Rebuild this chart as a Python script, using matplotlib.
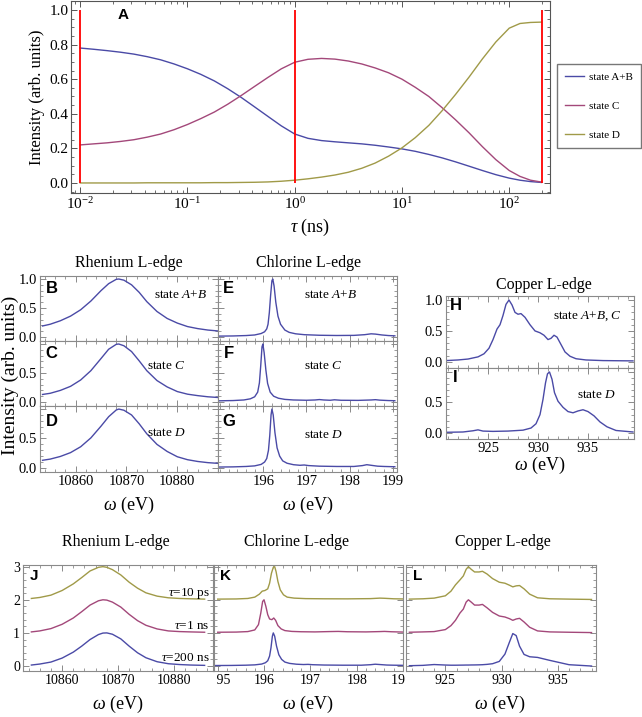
import matplotlib
matplotlib.use('Agg')
import matplotlib.pyplot as plt
from matplotlib.ticker import AutoMinorLocator, LogLocator, NullFormatter, MultipleLocator
from matplotlib.lines import Line2D

plt.rcParams['font.family'] = ['Liberation Serif', 'DejaVu Serif']
plt.rcParams['mathtext.fontset'] = 'custom'
plt.rcParams['mathtext.rm'] = 'Liberation Serif'
plt.rcParams['mathtext.it'] = 'Liberation Serif:italic'

# ---- panel A: populations vs delay ----
tau = [0.01, 0.0133, 0.0178, 0.0237, 0.0316, 0.0422, 0.0562, 0.075, 0.1, 0.133, 0.178,
       0.237, 0.316, 0.422, 0.562, 0.75, 1.0, 1.33, 1.78, 2.37, 3.16, 4.22, 5.62, 7.5,
       10.0, 13.3, 17.8, 23.7, 31.6, 42.2, 56.2, 75.0, 100.0, 126.0, 158.0, 200.0]
pop_ab = [0.780, 0.773, 0.765, 0.756, 0.745, 0.730, 0.712, 0.688, 0.660, 0.628, 0.590,
          0.545, 0.495, 0.440, 0.385, 0.330, 0.283, 0.258, 0.245, 0.238, 0.232, 0.226,
          0.218, 0.208, 0.197, 0.183, 0.165, 0.145, 0.122, 0.097, 0.072, 0.048, 0.028,
          0.016, 0.008, 0.003]
pop_c = [0.220, 0.226, 0.232, 0.240, 0.250, 0.265, 0.283, 0.308, 0.338, 0.372, 0.410,
         0.455, 0.505, 0.558, 0.610, 0.660, 0.698, 0.715, 0.720, 0.716, 0.705, 0.688,
         0.665, 0.637, 0.600, 0.553, 0.500, 0.435, 0.365, 0.290, 0.210, 0.135, 0.072,
         0.038, 0.016, 0.005]
pop_d = [0.0, 0.0, 0.0, 0.0, 0.0, 0.001, 0.001, 0.001, 0.001, 0.001, 0.002,
         0.002, 0.003, 0.004, 0.006, 0.010, 0.016, 0.024, 0.034, 0.046, 0.062, 0.085,
         0.115, 0.155, 0.203, 0.262, 0.333, 0.418, 0.512, 0.612, 0.717, 0.815, 0.895,
         0.922, 0.928, 0.930]
red_tau = [0.01, 1.0, 200.0]
red_top = 1.0

# ---- rhenium L-edge ----
re_x = [10853.5, 10855, 10857, 10859, 10861, 10863, 10865, 10866.5, 10868, 10868.5,
        10869.5, 10871, 10872.5, 10874, 10876, 10878, 10880, 10882, 10884, 10886, 10888.5]
re_b = [0.19, 0.22, 0.28, 0.36, 0.47, 0.62, 0.80, 0.92, 0.995, 1.0,
        0.98, 0.90, 0.77, 0.61, 0.44, 0.32, 0.24, 0.18, 0.145, 0.12, 0.10]
re_c = [0.13, 0.15, 0.20, 0.27, 0.38, 0.54, 0.75, 0.91, 0.995, 1.0,
        0.97, 0.87, 0.71, 0.54, 0.37, 0.26, 0.18, 0.135, 0.11, 0.09, 0.075]
re_d = [0.13, 0.15, 0.195, 0.26, 0.36, 0.51, 0.71, 0.87, 0.985, 1.0,
        0.98, 0.90, 0.75, 0.58, 0.40, 0.28, 0.19, 0.14, 0.11, 0.09, 0.075]

re_jx = [10854.5, 10856, 10858, 10860, 10862, 10863.5, 10865, 10866.5, 10867.3, 10868,
         10869, 10870.5, 10872, 10873.5, 10875, 10877, 10879, 10881, 10883, 10885.5]
re_j200 = [0.03, 0.06, 0.12, 0.24, 0.42, 0.60, 0.80, 0.95, 0.995, 1.0,
           0.96, 0.82, 0.60, 0.40, 0.25, 0.13, 0.07, 0.045, 0.03, 0.02]
re_j1 = [1.03, 1.06, 1.13, 1.26, 1.45, 1.64, 1.84, 1.97, 2.0, 1.99,
         1.93, 1.78, 1.56, 1.37, 1.23, 1.12, 1.06, 1.04, 1.03, 1.02]
re_j10 = [2.04, 2.07, 2.14, 2.28, 2.48, 2.67, 2.87, 2.98, 3.0, 2.98,
          2.91, 2.75, 2.53, 2.35, 2.21, 2.11, 2.06, 2.04, 2.03, 2.02]

# ---- chlorine L-edge ----
cl_ex = [194.95, 195.3, 195.6, 195.8, 195.95, 196.03, 196.08, 196.11, 196.14, 196.17, 196.2,
         196.22, 196.25, 196.29, 196.34, 196.4, 196.5, 196.6, 196.75, 196.95, 197.3, 197.7,
         198.1, 198.35, 198.5, 198.6, 198.75, 198.9, 199.05]
cl_e = [0.015, 0.018, 0.025, 0.035, 0.06, 0.09, 0.14, 0.22, 0.42, 0.72, 0.97,
        1.0, 0.88, 0.6, 0.36, 0.22, 0.12, 0.08, 0.055, 0.04, 0.03, 0.026,
        0.028, 0.04, 0.055, 0.05, 0.035, 0.025, 0.02]
cl_fx = [194.95, 195.3, 195.55, 195.7, 195.8, 195.87, 195.91, 195.94, 195.97, 195.99, 196.02,
         196.06, 196.1, 196.16, 196.24, 196.35, 196.5, 196.7, 197.0, 197.2, 197.3, 197.4,
         197.55, 197.65, 197.8, 198.2, 198.5, 198.6, 198.7, 198.9, 199.05]
cl_f = [0.02, 0.025, 0.035, 0.055, 0.09, 0.17, 0.33, 0.62, 0.95, 1.0, 0.85,
        0.55, 0.32, 0.17, 0.1, 0.065, 0.045, 0.035, 0.03, 0.035, 0.042, 0.035,
        0.03, 0.038, 0.03, 0.028, 0.035, 0.04, 0.032, 0.025, 0.022]
cl_gx = [194.95, 195.3, 195.6, 195.8, 195.95, 196.03, 196.08, 196.12, 196.15, 196.18, 196.2,
         196.23, 196.27, 196.32, 196.38, 196.45, 196.55, 196.7, 196.85, 196.95, 197.05, 197.3,
         197.7, 198.1, 198.3, 198.4, 198.5, 198.65, 198.8, 199.05]
cl_g = [0.015, 0.018, 0.025, 0.035, 0.06, 0.1, 0.16, 0.3, 0.55, 0.9, 1.0,
        0.9, 0.6, 0.34, 0.2, 0.12, 0.08, 0.055, 0.045, 0.05, 0.04, 0.03,
        0.025, 0.025, 0.04, 0.055, 0.045, 0.03, 0.025, 0.02]

cl_k1x = [195.0, 195.4, 195.65, 195.8, 195.88, 195.93, 195.97, 196.0, 196.04, 196.08, 196.12,
          196.17, 196.21, 196.25, 196.3, 196.37, 196.45, 196.6, 196.8, 197.1, 197.4, 197.6,
          197.8, 198.2, 198.5, 198.6, 198.75, 199.0]
cl_k1 = [1.02, 1.025, 1.04, 1.09, 1.25, 1.6, 1.95, 2.0, 1.8, 1.55, 1.42,
         1.4, 1.45, 1.38, 1.22, 1.12, 1.07, 1.045, 1.035, 1.03, 1.04, 1.045,
         1.035, 1.03, 1.04, 1.045, 1.035, 1.025]
cl_k10x = [195.0, 195.4, 195.65, 195.8, 195.9, 195.96, 196.02, 196.08, 196.12, 196.16, 196.2,
           196.23, 196.26, 196.3, 196.35, 196.42, 196.5, 196.65, 196.9, 197.3, 197.8, 198.3,
           198.5, 198.6, 198.8, 199.0]
cl_k10 = [2.02, 2.025, 2.04, 2.08, 2.17, 2.26, 2.28, 2.33, 2.5, 2.8, 2.98,
          3.0, 2.85, 2.55, 2.3, 2.15, 2.08, 2.05, 2.035, 2.03, 2.028, 2.035,
          2.05, 2.045, 2.03, 2.025]

# ---- copper L-edge ----
cu_hx = [920.8, 922, 923, 924, 924.6, 925.1, 925.5, 925.9, 926.2, 926.5, 926.8, 927.1, 927.4,
         927.7, 928.0, 928.3, 928.7, 929.2, 929.7, 930.2, 930.6, 931.0, 931.3, 931.6, 931.9,
         932.3, 932.7, 933.2, 933.8, 934.8, 936.5, 939.5]
cu_h = [0.02, 0.03, 0.045, 0.08, 0.13, 0.22, 0.36, 0.53, 0.6, 0.75, 0.93, 1.0, 0.92,
        0.8, 0.77, 0.78, 0.72, 0.6, 0.5, 0.47, 0.43, 0.36, 0.38, 0.43, 0.4,
        0.28, 0.16, 0.09, 0.05, 0.03, 0.02, 0.015]
cu_ix = [920.8, 922.5, 923.5, 924.0, 924.5, 925.5, 927, 928.5, 929.3, 929.8, 930.2, 930.5,
         930.75, 930.95, 931.15, 931.4, 931.65, 932.0, 932.5, 933.0, 933.5, 934.0, 934.5,
         935.0, 935.6, 936.2, 936.9, 937.8, 939.5]
cu_i = [0.01, 0.015, 0.035, 0.05, 0.03, 0.025, 0.03, 0.045, 0.08, 0.15, 0.3, 0.55,
        0.82, 0.97, 1.0, 0.88, 0.66, 0.52, 0.42, 0.35, 0.33, 0.36, 0.38,
        0.35, 0.28, 0.18, 0.1, 0.04, 0.015]
cu_lx = [921.8, 923, 924, 925, 925.5, 925.9, 926.3, 926.6, 926.85, 927.05, 927.3, 927.6,
         928.0, 928.3, 928.7, 929.2, 929.8, 930.3, 930.7, 931.0, 931.3, 931.6, 932.0, 932.5,
         933.2, 934.3, 936, 938]
cu_l10 = [2.02, 2.03, 2.05, 2.12, 2.26, 2.45, 2.6, 2.72, 2.92, 3.0, 2.92, 2.84,
          2.84, 2.86, 2.78, 2.64, 2.53, 2.5, 2.44, 2.39, 2.42, 2.43, 2.33, 2.17,
          2.06, 2.03, 2.02, 2.01]
cu_l1 = [1.02, 1.03, 1.04, 1.1, 1.22, 1.38, 1.6, 1.72, 1.93, 2.0, 1.93, 1.84,
         1.84, 1.86, 1.76, 1.62, 1.51, 1.48, 1.43, 1.38, 1.42, 1.44, 1.33, 1.17,
         1.06, 1.03, 1.02, 1.01]
cu_l200 = [0.01, 0.02, 0.045, 0.03, 0.025, 0.025, 0.027, 0.028, 0.03, 0.03, 0.032, 0.033,
           0.036, 0.04, 0.05, 0.07, 0.14, 0.36, 0.72, 0.98, 0.92, 0.6, 0.35, 0.28,
           0.26, 0.17, 0.04, 0.0]

BLUE = '#4a4aa6'
PURPLE = '#a3487a'
OLIVE = '#a09a48'
FRAME = '#8a8a8a'

W, H = 642, 717
fig = plt.figure(figsize=(6.42, 7.17), dpi=100)


def rect(x0, y0, x1, y1):
    return [x0 / W, 1 - y1 / H, (x1 - x0) / W, (y1 - y0) / H]


def frame(ax, col=FRAME, size=10):
    for s in ax.spines.values():
        s.set_color(col)
        s.set_linewidth(0.8)
    ax.tick_params(which='both', direction='in', top=True, right=True, color=col,
                   labelsize=size, pad=2)
    ax.tick_params(which='major', length=4, width=0.7)
    ax.tick_params(which='minor', length=2, width=0.6)


def letter(ax, x, y, s, size=12):
    ax.text(x, y, s, transform=ax.transAxes, fontfamily='Liberation Sans',
            fontweight='bold', fontsize=size, ha='center', va='center')


# panel A
axA = fig.add_axes(rect(71, 1, 550, 193))
axA.plot(tau, pop_ab, color=BLUE, lw=1.0, label='state A+B')
axA.plot(tau, pop_c, color=PURPLE, lw=1.0, label='state C')
axA.plot(tau, pop_d, color=OLIVE, lw=1.0, label='state D')
axA.vlines(red_tau, 0, red_top, color='red', lw=1.3)
axA.set_xscale('log')
axA.set_xlim(0.0082, 240)
axA.set_ylim(-0.058, 1.052)
axA.set_yticks([0, 0.2, 0.4, 0.6, 0.8, 1.0])
axA.set_yticklabels(['0.0', '0.2', '0.4', '0.6', '0.8', '1.0'])
axA.yaxis.set_minor_locator(AutoMinorLocator(4))
axA.xaxis.set_major_locator(LogLocator(base=10, numticks=10))
axA.xaxis.set_minor_locator(LogLocator(base=10, subs=range(2, 10), numticks=20))
axA.xaxis.set_minor_formatter(NullFormatter())
frame(axA, '#555555', 11)
axA.set_ylabel('Intensity (arb. units)', fontsize=12, labelpad=3)
axA.set_xlabel(r'$\tau$ (ns)', fontsize=13, labelpad=4)
letter(axA, 0.108, 0.927, 'A', 11)
fig.legend(handles=[Line2D([], [], color=BLUE, lw=1.0), Line2D([], [], color=PURPLE, lw=1.0),
                    Line2D([], [], color=OLIVE, lw=1.0)],
           labels=['state A+B', 'state C', 'state D'], loc='upper left',
           bbox_to_anchor=(557 / W, 1 - 64 / H), fontsize=8, frameon=True, fancybox=False,
           edgecolor='#777777', framealpha=1, handlelength=1.7, labelspacing=1.75,
           borderpad=0.7, handletextpad=0.5, borderaxespad=0)

# row 2: Re, Cl, Cu
rows = [(276, 341), (341, 406), (406, 472)]
re_curves = [re_b, re_c, re_d]
cl_curves = [(cl_ex, cl_e), (cl_fx, cl_f), (cl_gx, cl_g)]
re_letters = ['B', 'C', 'D']
cl_letters = ['E', 'F', 'G']
re_texts = ['state $A$+$B$', 'state $C$', 'state $D$']
re_text_pos = [(0.79, 0.71), (0.71, 0.62), (0.71, 0.59)]
cl_text_pos = [(0.63, 0.71), (0.59, 0.62), (0.59, 0.56)]
letter_y = [0.815, 0.815, 0.76]
for i in range(3):
    y0, y1 = rows[i]
    ax = fig.add_axes(rect(40, y0, 218, y1))
    ax.plot(re_x, re_curves[i], color=BLUE, lw=1.0)
    ax.set_xlim(10853, 10888)
    ax.set_ylim(-0.069, 1.052)
    ax.set_xticks([10860, 10870, 10880])
    ax.xaxis.set_minor_locator(MultipleLocator(2))
    ax.set_yticks([0, 0.5, 1.0])
    ax.set_yticklabels(['0.0', '0.5', '1.0' if i == 0 else ''])
    ax.yaxis.set_minor_locator(MultipleLocator(0.1))
    if i < 2:
        ax.set_xticklabels([])
    frame(ax, FRAME, 10.5)
    letter(ax, 0.065, letter_y[i], re_letters[i])
    ax.text(re_text_pos[i][0], re_text_pos[i][1], re_texts[i], transform=ax.transAxes,
            fontsize=9.5, ha='center', va='center')

    ax = fig.add_axes(rect(218, y0, 397, y1))
    ax.plot(cl_curves[i][0], cl_curves[i][1], color=BLUE, lw=1.0)
    ax.set_xlim(194.95, 199.1)
    ax.set_ylim(-0.069, 1.052)
    ax.set_xticks([196, 197, 198, 199])
    ax.xaxis.set_minor_locator(MultipleLocator(0.2))
    ax.set_yticks([0, 0.5, 1.0])
    ax.set_yticklabels([])
    ax.yaxis.set_minor_locator(MultipleLocator(0.1))
    if i < 2:
        ax.set_xticklabels([])
    frame(ax, FRAME, 10.5)
    letter(ax, 0.06, letter_y[i], cl_letters[i])
    ax.text(cl_text_pos[i][0], cl_text_pos[i][1], re_texts[i], transform=ax.transAxes,
            fontsize=9.5, ha='center', va='center')

cu_rows = [(296, 368), (368, 439)]
cu_curves = [(cu_hx, cu_h), (cu_ix, cu_i)]
cu_texts = ['state $A$+$B$, $C$', 'state $D$']
cu_text_pos = [(0.75, 0.72), (0.8, 0.62)]
for i in range(2):
    y0, y1 = cu_rows[i]
    ax = fig.add_axes(rect(446, y0, 634, y1))
    ax.plot(cu_curves[i][0], cu_curves[i][1], color=BLUE, lw=1.0)
    ax.set_xlim(920.8, 939.6)
    ax.set_ylim(-0.1, 1.065)
    ax.set_xticks([925, 930, 935])
    ax.xaxis.set_minor_locator(MultipleLocator(1))
    ax.set_yticks([0, 0.5, 1.0])
    ax.set_yticklabels(['0.0', '0.5', '1.0' if i == 0 else ''])
    ax.yaxis.set_minor_locator(MultipleLocator(0.1))
    if i == 0:
        ax.set_xticklabels([])
    frame(ax, FRAME, 10.5)
    letter(ax, 0.05, 0.87, ['H', 'I'][i])
    ax.text(cu_text_pos[i][0], cu_text_pos[i][1], cu_texts[i], transform=ax.transAxes,
            fontsize=9.5, ha='center', va='center')

fig.text(129 / W, 1 - 263 / H, 'Rhenium L-edge', fontsize=11.5, ha='center', va='center')
fig.text(308 / W, 1 - 263 / H, 'Chlorine L-edge', fontsize=11.5, ha='center', va='center')
fig.text(544 / W, 1 - 285 / H, 'Copper L-edge', fontsize=11.5, ha='center', va='center')
fig.text(10 / W, 1 - 375 / H, 'Intensity (arb. units)', fontsize=14, rotation=90,
         ha='center', va='center')
fig.text(129 / W, 1 - 505 / H, r'$\omega$ (eV)', fontsize=13, ha='center', va='center')
fig.text(308 / W, 1 - 505 / H, r'$\omega$ (eV)', fontsize=13, ha='center', va='center')
fig.text(540 / W, 1 - 465 / H, r'$\omega$ (eV)', fontsize=13, ha='center', va='center')

# row 3: time-resolved spectra
axJ = fig.add_axes(rect(23, 565, 213, 671))
axJ.plot(re_jx, re_j10, color=OLIVE, lw=1.0)
axJ.plot(re_jx, re_j1, color=PURPLE, lw=1.0)
axJ.plot(re_jx, re_j200, color=BLUE, lw=1.0)
axJ.set_xlim(10853, 10887)
axJ.set_xticks([10860, 10870, 10880])
axJ.xaxis.set_minor_locator(MultipleLocator(2))
axJ.text(10886.4, 2.2, r'$\tau$=10 ps', fontsize=9.5, ha='right', va='center')
axJ.text(10886.4, 1.2, r'$\tau$=1 ns', fontsize=9.5, ha='right', va='center')
axJ.text(10886.4, 0.24, r'$\tau$=200 ns', fontsize=9.5, ha='right', va='center')

axK = fig.add_axes(rect(214, 565, 403, 671))
axK.plot(cl_k10x, cl_k10, color=OLIVE, lw=1.0)
axK.plot(cl_k1x, cl_k1, color=PURPLE, lw=1.0)
axK.plot(cl_gx, cl_g, color=BLUE, lw=1.0)
axK.set_xlim(194.92, 199.0)
axK.set_xticks([195, 196, 197, 198, 199])
axK.set_xticklabels(['   95', '196', '197', '198', '19   '])
axK.xaxis.set_minor_locator(MultipleLocator(0.2))

axL = fig.add_axes(rect(406, 565, 596, 671))
axL.plot(cu_lx, cu_l10, color=OLIVE, lw=1.0)
axL.plot(cu_lx, cu_l1, color=PURPLE, lw=1.0)
axL.plot(cu_lx, cu_l200, color=BLUE, lw=1.0)
axL.set_xlim(921.5, 938.4)
axL.set_xticks([925, 930, 935])
axL.xaxis.set_minor_locator(MultipleLocator(1))

for ax, lab in [(axJ, 'J'), (axK, 'K'), (axL, 'L')]:
    ax.set_ylim(-0.15, 3.05)
    ax.set_yticks([0, 1, 2, 3])
    ax.yaxis.set_minor_locator(MultipleLocator(0.2))
    if ax is not axJ:
        ax.set_yticklabels([])
    frame(ax, FRAME, 10)
    letter(ax, 0.06, 0.9, lab, 11)

fig.text(116 / W, 1 - 542 / H, 'Rhenium L-edge', fontsize=11.5, ha='center', va='center')
fig.text(297 / W, 1 - 542 / H, 'Chlorine L-edge', fontsize=11.5, ha='center', va='center')
fig.text(503 / W, 1 - 542 / H, 'Copper L-edge', fontsize=11.5, ha='center', va='center')
fig.text(118 / W, 1 - 704 / H, r'$\omega$ (eV)', fontsize=13, ha='center', va='center')
fig.text(308 / W, 1 - 704 / H, r'$\omega$ (eV)', fontsize=13, ha='center', va='center')
fig.text(500 / W, 1 - 704 / H, r'$\omega$ (eV)', fontsize=13, ha='center', va='center')

fig.savefig('out.png', dpi=100)
